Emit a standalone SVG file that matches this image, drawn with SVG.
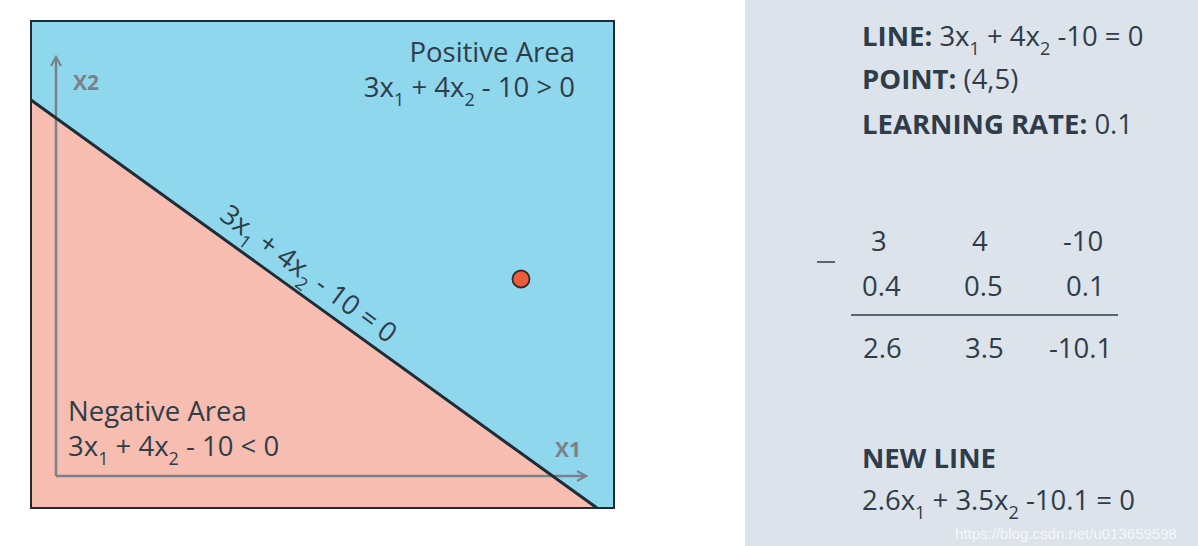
<svg xmlns="http://www.w3.org/2000/svg" width="1198" height="546" viewBox="0 0 1198 546">
<defs>
<style>
.t{font-family:"Open Sans","Liberation Sans",sans-serif;fill:#2e3d49;font-size:27.5px}
.b{font-weight:bold}
.ax{font-family:"Open Sans","Liberation Sans",sans-serif;fill:#7b8188;font-size:21px;font-weight:bold}
.sub{font-size:18px}
</style>
<marker id="arr" viewBox="0 0 12 12" refX="10" refY="6" markerWidth="12" markerHeight="12" markerUnits="userSpaceOnUse" orient="auto">
<path d="M1,1 L10,6 L1,11" fill="none" stroke="#7b8188" stroke-width="2.2"/>
</marker>
</defs>
<rect width="1198" height="546" fill="#ffffff"/>
<g id="plot">
<rect x="31" y="21" width="583" height="487" fill="#8fd7ec"/>
<polygon points="31,100 597,508 31,508" fill="#f8bdb1"/>
</g>
<g id="connectors">
<line x1="56" y1="476" x2="56" y2="57" stroke="#7b8188" stroke-width="2.5" marker-end="url(#arr)"/>
<line x1="56" y1="476" x2="586" y2="476" stroke="#7b8188" stroke-width="2.5" marker-end="url(#arr)"/>
<line x1="31" y1="100" x2="597" y2="508" stroke="#1f2b36" stroke-width="3"/>
</g>
<rect x="31" y="21" width="583" height="487" fill="none" stroke="#1f2b36" stroke-width="2"/>
<g id="axis-labels">
<text class="ax" x="73" y="90">X2</text>
<text class="ax" x="555" y="457">X1</text>
</g>
<g id="positive">
<text class="t" x="575" y="62" text-anchor="end">Positive Area</text>
<text class="t" x="575" y="97" text-anchor="end">3x<tspan class="sub" dy="9">1</tspan><tspan dy="-9"> + 4x</tspan><tspan class="sub" dy="9">2</tspan><tspan dy="-9"> - 10 &gt; 0</tspan></text>
</g>
<g id="negative">
<text class="t" x="68" y="421">Negative Area</text>
<text class="t" x="68" y="456">3x<tspan class="sub" dy="9">1</tspan><tspan dy="-9"> + 4x</tspan><tspan class="sub" dy="9">2</tspan><tspan dy="-9"> - 10 &lt; 0</tspan></text>
</g>
<g id="line-label" transform="translate(31,100) rotate(36.5)">
<text class="t" x="221" y="-16">3x<tspan class="sub" dy="9">1</tspan><tspan dy="-9"> + 4x</tspan><tspan class="sub" dy="9">2</tspan><tspan dy="-9"> - 10 = 0</tspan></text>
</g>
<g id="point">
<circle cx="521" cy="279" r="8.5" fill="#ee5a3c" stroke="#3a2a2a" stroke-width="1.8"/>
</g>
<g id="panel">
<rect x="745" y="0" width="453" height="546" fill="#dce3ea"/>
<text class="t" x="862" y="46"><tspan class="b">LINE:</tspan> 3x<tspan class="sub" dy="9">1</tspan><tspan dy="-9"> + 4x</tspan><tspan class="sub" dy="9">2</tspan><tspan dy="-9"> -10 = 0</tspan></text>
<text class="t" x="862" y="89"><tspan class="b">POINT:</tspan> (4,5)</text>
<text class="t" x="862" y="134"><tspan class="b">LEARNING RATE:</tspan> 0.1</text>
</g>
<g id="table">
<text class="t" x="871" y="251">3</text>
<text class="t" x="972" y="251">4</text>
<text class="t" x="1063" y="251">-10</text>
<line x1="817" y1="262" x2="835" y2="262" stroke="#2e3d49" stroke-width="1.5"/>
<text class="t" x="862" y="296">0.4</text>
<text class="t" x="964" y="296">0.5</text>
<text class="t" x="1066" y="296">0.1</text>
<line x1="851" y1="315" x2="1118" y2="315" stroke="#2e3d49" stroke-width="1.5"/>
<text class="t" x="863" y="358">2.6</text>
<text class="t" x="965" y="358">3.5</text>
<text class="t" x="1049" y="358">-10.1</text>
</g>
<g id="new-line">
<text class="t b" x="862" y="468">NEW LINE</text>
<text class="t" x="862" y="510">2.6x<tspan class="sub" dy="9">1</tspan><tspan dy="-9"> + 3.5x</tspan><tspan class="sub" dy="9">2</tspan><tspan dy="-9"> -10.1 = 0</tspan></text>
</g>
<text x="955" y="539" font-family="Liberation Sans, sans-serif" font-size="15" fill="#ffffff" fill-opacity="0.75">https://blog.csdn.net/u013659598</text>
</svg>
